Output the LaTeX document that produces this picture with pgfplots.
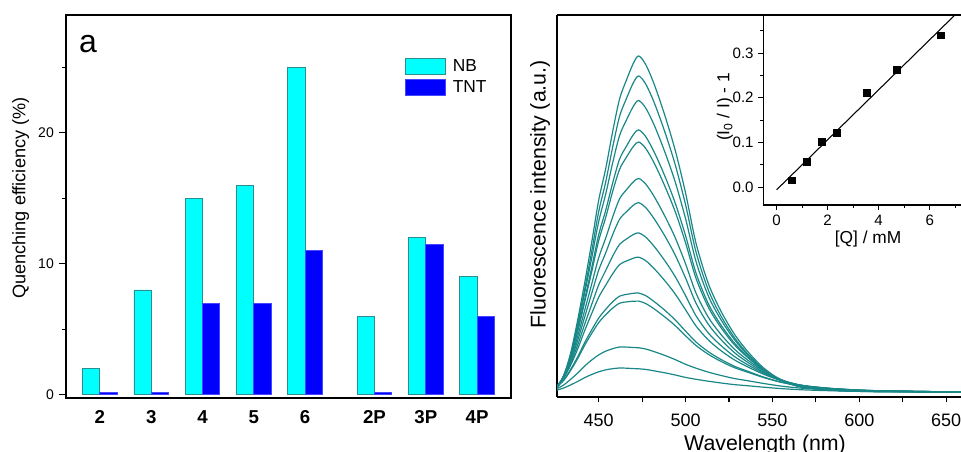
\documentclass[border=0pt]{standalone}
\usepackage{fontspec}
\setmainfont{Liberation Sans}
\usepackage{pgfplots}
\usepackage{pgfplotstable}
\pgfplotsset{compat=1.18}

\definecolor{nbfill}{RGB}{0,255,255}
\definecolor{nbedge}{RGB}{45,140,140}
\definecolor{tntfill}{RGB}{0,0,255}
\definecolor{tntedge}{RGB}{70,70,255}
\definecolor{spec}{RGB}{25,135,135}

% emission spectra, x = wavelength (nm), c1..c13 = intensity (a.u.), top to bottom
\pgfplotstableread{
x c1 c2 c3 c4 c5 c6 c7 c8 c9 c10 c11 c12 c13
426 9.0 8.8 9.4 10.0 10.0 10.6 10.5 10.8 10.9 10.4 10.2 8.3 6.9
430 22.1 21.1 21.6 21.6 21.3 21.1 20.5 20.0 19.4 17.3 16.9 12.2 9.1
434 45.0 42.6 42.4 41.0 40.4 38.3 36.3 34.3 32.4 28.0 27.0 17.9 12.2
438 77.9 73.6 71.6 67.9 66.2 61.3 57.1 52.5 48.4 40.5 38.7 24.1 15.6
442 114.9 108.3 104.6 98.1 95.4 87.1 80.4 73.1 66.7 54.6 51.9 31.1 19.4
446 154.9 145.9 139.3 129.7 125.5 113.1 103.7 92.7 83.6 67.2 63.7 37.0 22.5
450 196.9 185.4 175.5 162.3 156.4 139.4 126.9 112.1 99.8 78.9 74.4 42.1 25.2
454 228.1 214.8 202.7 186.5 179.4 158.7 144.0 126.4 111.7 87.6 82.2 45.8 27.1
458 265.1 249.6 233.9 213.8 205.3 179.8 162.2 140.7 123.1 95.1 88.8 48.3 28.3
462 298.0 280.6 261.4 237.8 227.6 198.1 177.7 152.6 132.4 100.8 93.8 50.0 29.0
466 317.1 298.6 277.1 250.9 239.9 207.3 185.3 158.0 136.0 102.6 95.1 49.9 28.8
470 333.9 314.4 290.9 262.5 250.7 215.3 191.8 162.5 138.8 103.7 95.8 49.5 28.4
473 341.0 321.0 296.4 267.1 255.0 218.5 194.3 164.1 139.8 103.9 95.9 49.2 28.2
477 332.6 313.1 289.1 260.5 248.7 213.1 189.5 160.0 136.4 101.4 93.5 48.0 27.6
482 312.4 294.1 271.6 244.7 233.7 200.2 178.0 150.4 128.2 95.3 88.0 45.3 26.1
488 281.9 265.4 245.3 221.2 211.1 181.1 161.2 136.4 116.4 86.8 80.1 41.6 24.2
494 246.9 232.5 215.2 194.1 185.5 159.4 142.0 120.4 103.0 77.1 71.4 37.4 22.0
500 203.9 192.1 178.2 161.2 154.1 133.1 118.9 101.3 87.2 65.9 61.2 32.7 19.6
506 153.8 145.0 135.5 123.9 118.7 103.9 93.8 81.2 71.0 55.0 51.5 28.8 17.7
513 113.9 107.4 101.4 93.6 90.1 80.0 72.9 64.2 57.2 45.4 42.8 24.9 15.8
520 87.0 82.1 78.3 72.9 70.3 63.3 58.1 52.0 46.8 37.9 35.9 21.7 14.1
528 63.1 59.7 57.6 54.2 52.4 48.0 44.5 40.6 37.2 30.8 29.4 18.5 12.4
536 45.0 42.6 41.8 40.0 39.1 36.6 34.4 32.0 29.9 25.6 24.6 16.2 11.2
545 28.9 27.4 27.5 27.1 26.6 25.9 24.7 23.7 22.7 19.9 19.4 13.5 9.8
555 17.1 16.4 17.0 17.1 17.0 17.3 16.8 16.6 16.4 14.9 14.7 10.9 8.4
567 10.0 9.7 10.5 10.9 11.0 11.5 11.5 11.6 11.7 11.1 11.0 8.8 7.2
585 6.7 6.6 7.0 7.5 7.5 8.0 8.1 8.4 8.4 8.2 8.2 7.1 6.2
610 5.3 5.3 5.6 5.8 5.8 6.1 6.1 6.3 6.3 6.2 6.2 5.8 5.5
658.5 5.0 5.0 5.0 5.0 5.0 5.0 5.0 5.0 5.0 5.0 5.0 5.0 5.0
}\spectra

\begin{document}
\begin{tikzpicture}
\path[use as bounding box] (0,0) rectangle (720.75pt,339pt);
\clip (0,0) rectangle (720.75pt,339pt);

% (a) quenching efficiency bars
\begin{axis}[at={(49.5pt,40.5pt)}, anchor=south west, scale only axis,
  width=333.75pt, height=287.25pt,
  xmin=-0.66, xmax=8.01, ymin=-0.25, ymax=29,
  xtick={0,1,2,3,4,5.35,6.35,7.35}, xticklabels={2,3,4,5,6,2P,3P,4P},
  xtick style={draw=none},
  xticklabel style={font=\bfseries\fontsize{14}{14}\selectfont},
  ytick={0,10,20}, minor ytick={5,15,25}, ytick pos=left,
  tick align=outside, major tick length=5.6pt, minor tick length=3.2pt,
  yticklabel style={font=\fontsize{10.5}{10.5}\selectfont},
  /pgf/number format/assume math mode=true,
  axis line style={line width=1.1pt}, tick style={line width=0.8pt, black},
  ylabel={Quenching efficiency (\%)},
  ylabel style={at={(axis description cs:-0.102,0.522)}, anchor=center,
    font=\fontsize{13.6}{13.6}\selectfont},
  legend style={at={(axis description cs:0.762,0.892)}, anchor=north west,
    draw=none, fill=none, inner sep=0pt, row sep=1.5pt,
    nodes={inner xsep=5pt, inner ysep=2pt},
    font=\fontsize{13}{13}\selectfont},
  legend cell align=left]
\addlegendimage{legend image code/.code={\draw[fill=nbfill, draw=nbedge, line width=0.6pt] (0pt,-6pt) rectangle (30pt,6pt);}}
\addlegendimage{legend image code/.code={\draw[fill=tntfill, draw=tntedge, line width=0.6pt] (0pt,-6pt) rectangle (30pt,6pt);}}
\addplot[ybar, bar width=0.337, bar shift=-0.1685, fill=nbfill, draw=nbedge, line width=0.6pt, forget plot]
  coordinates {(0,2) (1,8) (2,15) (3,16) (4,25) (5.35,6) (6.35,12) (7.35,9)};
\addplot[ybar, bar width=0.337, bar shift=0.1685, fill=tntfill, draw=tntedge, line width=0.6pt, forget plot]
  coordinates {(0,0.2) (1,0.2) (2,7) (3,7) (4,11) (5.35,0.2) (6.35,11.5) (7.35,6)};
\legend{NB,TNT}
\node[anchor=base west, inner sep=0pt, font=\fontsize{24}{24}\selectfont]
  at (axis description cs:0.029,0.902) {a};
\end{axis}

% fluorescence spectra
\begin{axis}[at={(417.75pt,41.25pt)}, anchor=south west, scale only axis,
  width=303pt, height=286.5pt,
  xmin=426, xmax=658.5, ymin=0, ymax=382,
  axis x line*=box, axis y line*=left,
  xtick={450,500,...,650}, minor xtick={475,525,575,625}, xtick pos=left,
  ytick=\empty,
  tick align=outside, major tick length=4pt, minor tick length=4pt,
  xticklabel style={font=\fontsize{13.5}{13.5}\selectfont, yshift=-5pt},
  /pgf/number format/assume math mode=true,
  axis line style={line width=1.1pt}, tick style={line width=0.8pt, black},
  xlabel={Wavelength (nm)},
  xlabel style={at={(axis description cs:0.515,-0.140)}, anchor=base,
    font=\fontsize{16}{16}\selectfont},
  ylabel={Fluorescence intensity (a.u.)},
  ylabel style={at={(axis description cs:-0.042,0.531)}, anchor=center,
    font=\fontsize{16}{16}\selectfont}]
\pgfplotsinvokeforeach{1,...,13}{
  \addplot[spec, line width=0.9pt, smooth] table[x=x, y=c#1] {\spectra};
}
\end{axis}

% inset: Stern-Volmer plot
\begin{axis}[at={(572.5pt,185.25pt)}, anchor=south west, scale only axis,
  width=148.3pt, height=142.5pt,
  xmin=-0.52, xmax=7.23, ymin=-0.04, ymax=0.385,
  axis x line*=bottom, axis y line*=left,
  xtick={0,2,4,6}, minor xtick={1,3,5,7},
  ytick={0,0.1,0.2,0.3}, minor ytick={0.05,0.15,0.25,0.35},
  yticklabel style={/pgf/number format/.cd, fixed, fixed zerofill, precision=1},
  tick align=outside, major tick length=3.75pt, minor tick length=2.25pt,
  ticklabel style={font=\fontsize{11.3}{11.3}\selectfont},
  /pgf/number format/assume math mode=true,
  axis line style={line width=0.8pt}, tick style={line width=0.6pt, black},
  xlabel={[Q] / mM},
  xlabel style={at={(axis description cs:0.53,-0.205)}, anchor=base,
    font=\fontsize{13}{13}\selectfont},
  ylabel={(I\textsubscript{0} / I) - 1},
  ylabel style={at={(axis description cs:-0.194,0.516)}, anchor=center,
    font=\fontsize{13}{13}\selectfont}]
\addplot[black, line width=0.8pt] coordinates {(0,-0.006) (6.99,0.385)};
\addplot[only marks, mark=square*, mark size=2.5pt, black]
  coordinates {(0.59,0.015) (1.18,0.056) (1.78,0.101) (2.36,0.121) (3.54,0.211) (4.70,0.263) (6.43,0.340)};
\end{axis}
\end{tikzpicture}
\end{document}
